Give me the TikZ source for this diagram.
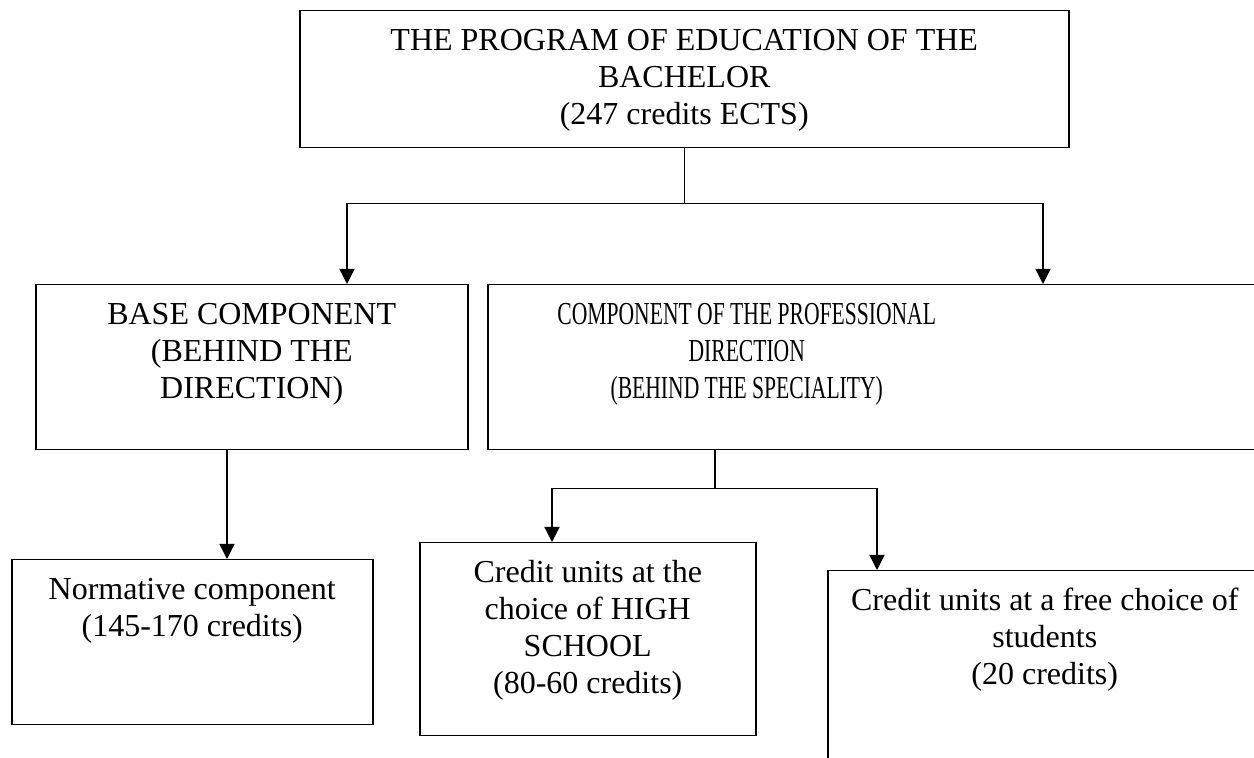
\documentclass[tikz,border=0pt]{standalone}
\usepackage{fontspec}
\setmainfont{Liberation Serif}
\newfontfamily\narrowfont{Liberation Serif}[FakeStretch=0.675]
\usetikzlibrary{calc}
\usetikzlibrary{arrows.meta}
\newcommand{\blocktext}[3]{\parbox[t][#2][t]{#1}{\vspace*{7pt}\centering\strut #3}}

\begin{document}
\begin{tikzpicture}[x=0.5pt, y=-0.5pt]
                \tikzstyle{block} = [draw, line width=0.75pt, anchor=north west, inner sep=0pt, font=\fontsize{16}{18.5}\selectfont]
                \tikzstyle{link} = [line width=0.65pt]
                \tikzstyle{arrow} = [link, -{Triangle[length=7.5pt, width=7.5pt]}]
                \useasboundingbox (0, 0) rectangle (1254, 758);
                \clip (0, 0) rectangle (1254, 758);
                \node[block] (prog) at (299, 10) {\blocktext{384.5pt}{68.5pt}{THE PROGRAM OF EDUCATION OF THE\\ BACHELOR\\ (247 credits ECTS)}};
                \node[block] (base) at (35, 284) {\blocktext{216pt}{82.5pt}{BASE COMPONENT\\ (BEHIND THE\\ DIRECTION)}};
                \node[block] (comp) at (487, 284) {\blocktext{259pt}{82.5pt}{\narrowfont COMPONENT OF THE PROFESSIONAL\\ DIRECTION\\ (BEHIND THE SPECIALITY)}\hspace*{141pt}};
                \node[block] (norm) at (11, 559) {\blocktext{180.5pt}{82.5pt}{Normative component\\ (145-170 credits)}};
                \node[block] (high) at (419, 542) {\blocktext{168pt}{96.5pt}{Credit units at the\\ choice of HIGH\\ SCHOOL\\ (80-60 credits)}};
                \node[block] (free) at (827, 570) {\blocktext{217pt}{125pt}{Credit units at a free choice of\\ students\\ (20 credits)}\hspace*{40pt}};
                \draw[link] (prog.south) -- ++(0, 55) coordinate (fork1);
                \draw[arrow] (fork1) -| ($(base.north west)+(312, 0)$);
                \draw[arrow] (fork1) -| ($(comp.north west)+(556, 0)$);
                \draw[arrow] ($(base.south west)+(192, 0)$) -- ($(norm.north west)+(216, 0)$);
                \draw[link] ($(comp.south west)+(228, 0)$) -- ++(0, 38) coordinate (fork2);
                \draw[arrow] (fork2) -| ($(high.north west)+(133, 0)$);
                \draw[arrow] (fork2) -| ($(free.north west)+(50, 0)$);
            \end{tikzpicture}
\end{document}
